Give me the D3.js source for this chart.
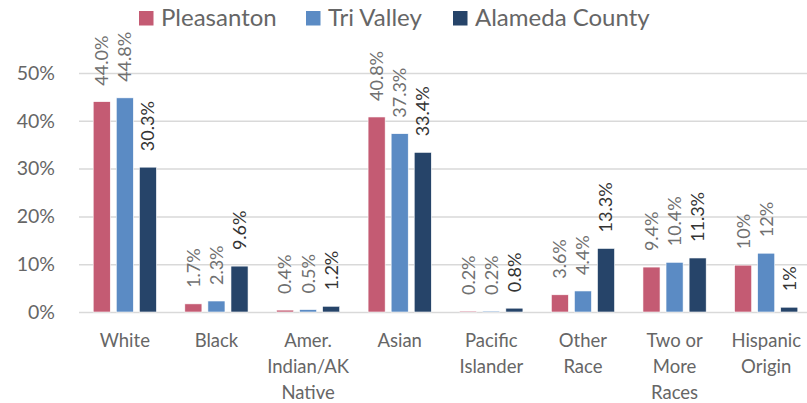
<!DOCTYPE html>
<html>
<head>
<meta charset="utf-8">
<script src="https://cdn.jsdelivr.net/npm/d3@7"></script>
<style>
  body { margin: 0; background: #fff; }
  svg { display: block; font-family: Lato, "Open Sans", sans-serif; }
</style>
</head>
<body>
<svg id="chart" width="807" height="403"></svg>
<script>
// data
var categories = ["White", "Black", "Amer.\nIndian/AK\nNative", "Asian", "Pacific\nIslander", "Other\nRace", "Two or\nMore\nRaces", "Hispanic\nOrigin"];
var seriesNames = ["Pleasanton", "Tri Valley", "Alameda County"];
var pleasanton = [44.0, 1.7, 0.4, 40.8, 0.2, 3.6, 9.4, 9.8];
var triValley = [44.8, 2.3, 0.5, 37.3, 0.2, 4.4, 10.4, 12.3];
var alameda = [30.3, 9.6, 1.2, 33.4, 0.8, 13.3, 11.3, 1.0];
// decimals shown in the data labels of each category
var labelDecimals = [1, 1, 1, 1, 1, 1, 1, 0];
var yTicks = [0, 10, 20, 30, 40, 50];
var colors = ["#C45B73", "#5B8BC4", "#264469"];

var svg = d3.select("#chart");
var series = [pleasanton, triValley, alameda];

var x0 = d3.scaleBand()
  .domain(d3.range(categories.length))
  .range([79, 812])
  .paddingInner(0.31)
  .paddingOuter(0.155);

var x1 = d3.scaleBand()
  .domain(d3.range(seriesNames.length))
  .range([0, x0.bandwidth()])
  .paddingInner(0.26);

var y = d3.scaleLinear().domain([0, 50]).range([312, 73]);

//gridlines + tick labels
var yAxis = svg.append("g")
  .attr("transform", "translate(79,0)")
  .call(d3.axisLeft(y).tickValues(yTicks).tickSize(-733).tickPadding(24)
    .tickFormat(function (d) { return d + "%"; }));
yAxis.select(".domain").remove();
yAxis.selectAll(".tick line").attr("stroke", "#d9d9d9").attr("stroke-width", 1.5);
yAxis.selectAll(".tick text")
  .attr("fill", "#666666")
  .style("font-size", "19.5px")
  .style("font-family", "Lato, sans-serif");

var groups = svg.append("g").selectAll("g")
  .data(categories)
  .enter()
  .append("g")
  .attr("transform", function (d, i) { return "translate(" + x0(i) + ",0)"; });

groups.selectAll("rect")
  .data(function (d, i) {
    return series.map(function (s, k) { return { k: k, v: s[i] }; });
  })
  .enter()
  .append("rect")
  .attr("x", function (d) { return x1(d.k); })
  .attr("y", function (d) { return y(d.v); })
  .attr("width", x1.bandwidth())
  .attr("height", function (d) { return y(0) - y(d.v); })
  .attr("fill", function (d) { return colors[d.k]; })
  .attr("stroke", "#fff")
  .attr("stroke-width", 0.6);

//value labels, rotated
groups.selectAll("text.val")
  .data(function (d, i) {
    return series.map(function (s, k) { return { k: k, v: s[i], dec: labelDecimals[i] }; });
  })
  .enter()
  .append("text")
  .attr("class", "val")
  .attr("transform", function (d) {
    var cx = x1(d.k) + x1.bandwidth() / 2;
    return "translate(" + cx + "," + (y(d.v) - 16) + ") rotate(-90)";
  })
  .attr("dy", "0.36em")
  .attr("text-anchor", "start")
  .attr("fill", function (d) { return d.k === 2 ? "#333333" : "#707070"; })
  .style("font-size", "18px")
  .text(function (d) { return d.v.toFixed(d.dec) + "%"; });

//category labels
var catLabels = svg.append("g").selectAll("text")
  .data(categories)
  .enter()
  .append("text")
  .attr("transform", function (d, i) {
    return "translate(" + (x0(i) + x0.bandwidth() / 2) + ",347)";
  })
  .attr("text-anchor", "middle")
  .attr("fill", "#666666")
  .style("font-size", "18.5px");

catLabels.selectAll("tspan")
  .data(function (d) { return d.split("\n"); })
  .enter()
  .append("tspan")
  .attr("x", 0)
  .attr("y", function (d, j) { return j * 26; })
  .text(function (d) { return d; });

//legend
var legendX = [139, 306, 453];
var legend = svg.append("g").selectAll("g")
  .data(seriesNames)
  .enter()
  .append("g")
  .attr("transform", function (d, i) { return "translate(" + legendX[i] + ",11)"; });

legend.append("rect")
  .attr("width", 14.5)
  .attr("height", 14.5)
  .attr("fill", function (d, i) { return colors[i]; });

legend.append("text")
  .attr("x", 22)
  .attr("y", 15)
  .attr("fill", "#666666")
  .style("font-size", "24px")
  .text(function (d) { return d; });
</script>
</body>
</html>
